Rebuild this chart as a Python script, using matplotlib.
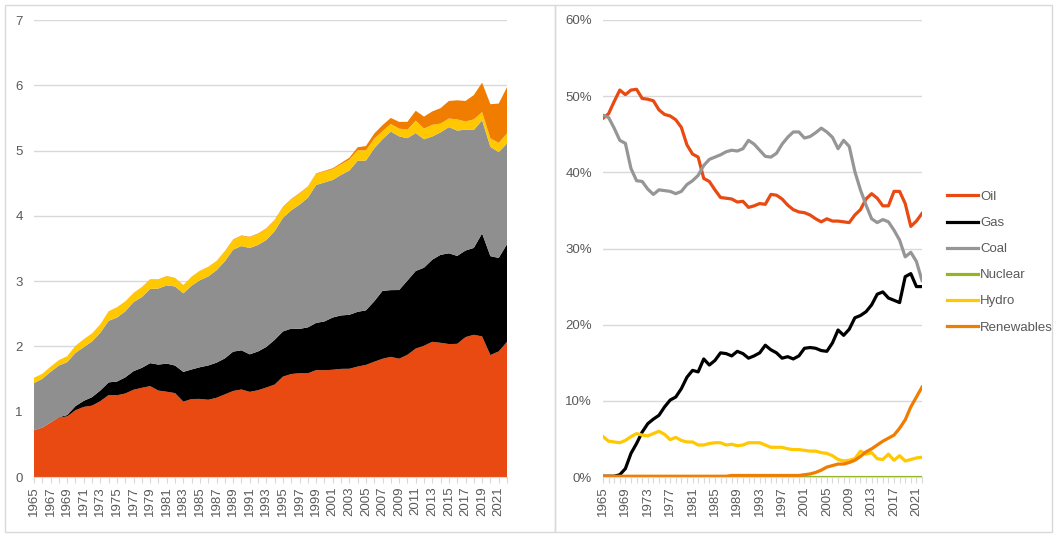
import numpy as np
import matplotlib.pyplot as plt
from matplotlib.patches import Rectangle
from matplotlib.ticker import FuncFormatter

plt.rcParams['font.family'] = ['Liberation Sans', 'DejaVu Sans']

years = list(range(1965, 2023))

# total primary energy (left chart, top of the stack)
total = [1.52, 1.58, 1.69, 1.79, 1.85, 2.01, 2.11, 2.20, 2.34, 2.54,
         2.60, 2.69, 2.82, 2.91, 3.03, 3.03, 3.08, 3.05, 2.94, 3.07,
         3.16, 3.22, 3.31, 3.46, 3.64, 3.70, 3.68, 3.73, 3.81, 3.94,
         4.14, 4.26, 4.35, 4.45, 4.65, 4.69, 4.73, 4.81, 4.89, 5.05,
         5.07, 5.26, 5.39, 5.50, 5.44, 5.44, 5.61, 5.52, 5.60, 5.65,
         5.76, 5.77, 5.76, 5.85, 6.04, 5.71, 5.72, 5.97]

# shares in % (right chart)
oil = [47.1, 47.7, 49.3, 50.8, 50.2, 50.8, 50.9, 49.7, 49.6, 49.4,
       48.2, 47.6, 47.4, 46.9, 45.9, 43.6, 42.4, 42.0, 39.2, 38.8,
       37.7, 36.7, 36.6, 36.5, 36.1, 36.2, 35.4, 35.6, 35.9, 35.8,
       37.1, 37.0, 36.5, 35.7, 35.1, 34.8, 34.7, 34.4, 33.9, 33.5,
       33.9, 33.6, 33.6, 33.5, 33.4, 34.4, 35.1, 36.5, 37.2, 36.6,
       35.6, 35.6, 37.5, 37.5, 35.9, 32.9, 33.6, 34.6]
gas = [0.1, 0.1, 0.1, 0.3, 1.1, 3.1, 4.4, 5.9, 7.0, 7.6,
       8.1, 9.2, 10.1, 10.5, 11.6, 13.1, 14.0, 13.8, 15.5, 14.7,
       15.3, 16.3, 16.2, 15.9, 16.5, 16.2, 15.6, 15.9, 16.3, 17.3,
       16.7, 16.3, 15.6, 15.8, 15.5, 15.9, 16.9, 17.0, 16.9, 16.6,
       16.5, 17.6, 19.3, 18.6, 19.4, 20.9, 21.2, 21.7, 22.6, 24.0,
       24.3, 23.5, 23.2, 22.9, 26.3, 26.7, 25.0, 25.0]
coal = [47.5, 47.2, 45.8, 44.2, 43.8, 40.5, 38.9, 38.8, 37.8, 37.1,
        37.7, 37.6, 37.5, 37.2, 37.5, 38.4, 38.9, 39.6, 40.9, 41.7,
        42.0, 42.3, 42.7, 42.9, 42.8, 43.1, 44.2, 43.7, 42.9, 42.1,
        42.0, 42.5, 43.7, 44.6, 45.3, 45.3, 44.5, 44.7, 45.2, 45.8,
        45.3, 44.6, 43.1, 44.2, 43.4, 40.1, 37.7, 35.7, 33.9, 33.4,
        33.8, 33.5, 32.4, 31.1, 28.9, 29.5, 28.3, 25.8]
nuclear = [0.0] * 58
hydro = [5.3, 4.7, 4.6, 4.5, 4.8, 5.3, 5.7, 5.5, 5.4, 5.7,
         6.0, 5.6, 4.9, 5.2, 4.8, 4.6, 4.6, 4.2, 4.2, 4.4,
         4.5, 4.5, 4.2, 4.3, 4.1, 4.2, 4.5, 4.5, 4.5, 4.2,
         3.9, 3.9, 3.9, 3.7, 3.6, 3.6, 3.5, 3.4, 3.4, 3.2,
         3.1, 2.8, 2.3, 2.1, 2.2, 2.4, 3.4, 3.0, 3.2, 2.4,
         2.3, 3.0, 2.2, 2.8, 2.1, 2.3, 2.5, 2.6]
renewables = [0.1, 0.1, 0.1, 0.1, 0.1, 0.1, 0.1, 0.1, 0.1, 0.1,
              0.1, 0.1, 0.1, 0.1, 0.1, 0.1, 0.1, 0.1, 0.1, 0.1,
              0.1, 0.1, 0.1, 0.2, 0.2, 0.2, 0.2, 0.2, 0.2, 0.2,
              0.2, 0.2, 0.2, 0.2, 0.2, 0.2, 0.3, 0.4, 0.6, 0.9,
              1.3, 1.5, 1.7, 1.7, 1.9, 2.2, 2.7, 3.3, 3.7, 4.2,
              4.7, 5.1, 5.5, 6.4, 7.5, 9.2, 10.5, 11.8]

names = ["Oil", "Gas", "Coal", "Nuclear", "Hydro", "Renewables"]
shares = [oil, gas, coal, nuclear, hydro, renewables]
area_colors = ["#E84A12", "#000000", "#8F8F8F", "#95B51F", "#FFC800", "#F07C00"]
line_colors = ["#E84A12", "#000000", "#969696", "#95B51F", "#FFC800", "#F07C00"]

txt = "#595959"
grid = "#D9D9D9"
W, H = 1057, 535

def box(x0, x1, y0, y1):
    return [x0 / W, 1 - y1 / H, (x1 - x0) / W, (y1 - y0) / H]

fig = plt.figure(figsize=(W / 100, H / 100), dpi=100)
fig.patches.append(Rectangle((5 / W, 3 / H), 550 / W, 527 / H, transform=fig.transFigure,
                             fill=False, edgecolor=grid, lw=1))
fig.patches.append(Rectangle((555 / W, 3 / H), 497 / W, 527 / H, transform=fig.transFigure,
                             fill=False, edgecolor=grid, lw=1))

yrs = np.array(years)
tot = np.array(total)
sum_sh = np.sum(shares, axis=0)
absolute = [tot * np.array(s) / sum_sh for s in shares]


def style(ax, step):
    ax.set_xlim(1965, 2022)
    ax.set_xticks(years)
    ax.set_xticklabels([str(y) if (y - 1965) % step == 0 else "" for y in years],
                       rotation=90, fontsize=9.5, color=txt)
    ax.tick_params(axis="x", length=4, color=grid, pad=3)
    ax.tick_params(axis="y", length=0, labelsize=9.5, labelcolor=txt, pad=8)
    for s in ["top", "right", "left"]:
        ax.spines[s].set_visible(False)
    ax.spines["bottom"].set_color(grid)
    ax.grid(axis="y", color=grid, lw=1)
    ax.set_axisbelow(True)


# left: stacked areas
ax1 = fig.add_axes(box(34, 507, 20, 477))
ax1.stackplot(yrs, absolute, colors=area_colors, lw=0)
ax1.set_ylim(0, 7)
ax1.set_yticks(range(0, 8))
style(ax1, 2)

# right: shares
ax2 = fig.add_axes(box(603, 922, 20, 477))
for n, s, c in zip(names, shares, line_colors):
    ax2.plot(yrs, s, color=c, lw=2.3, label=n, solid_joinstyle="round")
ax2.set_ylim(0, 60)
ax2.set_yticks(range(0, 61, 10))
ax2.yaxis.set_major_formatter(FuncFormatter(lambda v, p: f"{v:.0f}%"))
style(ax2, 4)

leg = ax2.legend(loc="center left", bbox_to_anchor=(1.04, 0.47), frameon=False,
                 fontsize=9.5, labelcolor=txt, handlelength=2.4, handletextpad=0.15,
                 labelspacing=1.05)

fig.savefig("out.png", dpi=100)
